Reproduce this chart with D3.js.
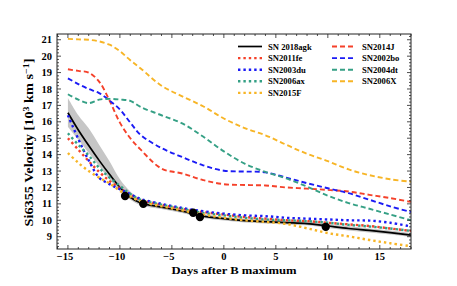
<!DOCTYPE html>
<html>
<head>
<meta charset="utf-8">
<script src="https://cdn.jsdelivr.net/npm/d3@7"></script>
<style>
  body { margin: 0; background: #fff; }
  text { font-family: "Liberation Serif", "DejaVu Serif", serif; font-weight: bold; }
</style>
</head>
<body>
<svg id="chart"></svg>
<script>
// ------ data ------
var dayGrid = [-15, -14, -13, -12, -11, -10, -9, -8, -6, -4, -2, 0, 2, 4, 6, 8, 10, 12, 14, 16, 18];

// SN 2018agk line and its grey band
var agkVel   = [16.55, 15.5, 14.55, 13.65, 12.8, 12.0, 11.4, 11.05, 10.8, 10.55, 10.25, 10.1, 9.98, 9.92, 9.86, 9.8, 9.65, 9.5, 9.38, 9.25, 9.1];
var agkUpper = [17.45, 16.4, 15.6, 14.6, 13.6, 12.5, 11.75, 11.25, 10.95, 10.68, 10.38, 10.22, 10.1, 10.04, 9.98, 9.92, 9.78, 9.63, 9.5, 9.38, 9.23];
var agkLower = [15.7, 14.9, 14.1, 13.3, 12.5, 11.8, 11.25, 10.92, 10.68, 10.44, 10.14, 9.99, 9.87, 9.81, 9.75, 9.69, 9.53, 9.38, 9.26, 9.13, 8.98];

// dotted comparison SNe
var sn2011fe = [15.0, 14.3, 13.6, 12.95, 12.4, 11.95, 11.55, 11.25, 10.95, 10.7, 10.5, 10.35, 10.2, 10.1, 10.0, 9.95, 9.85, 9.75, 9.65, 9.5, 9.35];
var sn2003du = [16.4, 14.95, 13.65, 12.6, 12.2, 11.9, 11.6, 11.3, 11.0, 10.75, 10.55, 10.4, 10.3, 10.25, 10.15, 10.1, 10.05, 10.0, 9.98, 9.85, 9.62];
var sn2006ax = [15.3, 14.6, 13.95, 13.2, 12.6, 12.1, 11.6, 11.25, 10.95, 10.7, 10.45, 10.3, 10.15, 10.05, 10.0, 9.95, 9.85, 9.72, 9.62, 9.5, 9.35];
var sn2015F  = [14.1, 13.5, 13.0, 12.6, 12.25, 11.8, 11.45, 11.15, 10.85, 10.6, 10.35, 10.15, 10.0, 9.9, 9.78, 9.51, 9.22, 9.02, 8.8, 8.6, 8.42];

// dashed comparison SNe
var sn2014J  = [19.2, 19.1, 19.0, 18.45, 17.3, 15.95, 15.0, 14.3, 13.15, 12.85, 12.45, 12.2, 12.15, 12.12, 12.0, 11.93, 11.85, 11.75, 11.55, 11.35, 11.12];
var sn2002bo = [18.65, 18.3, 18.0, 17.75, 17.3, 16.75, 15.95, 15.2, 14.4, 13.85, 13.35, 13.02, 12.97, 12.92, 12.6, 12.26, 11.95, 11.65, 11.25, 10.85, 10.5];
var sn2004dt = [17.68, 17.35, 17.14, 17.35, 17.4, 17.36, 17.28, 16.9, 16.4, 15.9, 15.1, 14.2, 13.45, 12.95, 12.55, 12.05, 11.5, 11.05, 10.7, 10.35, 10.0];
var sn2006X  = [21.05, 21.02, 21.0, 20.9, 20.7, 20.3, 19.75, 19.25, 18.2, 17.55, 16.95, 16.2, 15.62, 15.18, 14.6, 14.05, 13.6, 13.1, 12.75, 12.5, 12.35];

// black points of SN 2018agk
var pointDays = [-9.5, -7.75, -2.95, -2.3, 9.8];
var pointVel  = [11.48, 11.0, 10.46, 10.2, 9.6];

var xTicks = [-15, -10, -5, 0, 5, 10, 15];
var yTicks = [9, 10, 11, 12, 13, 14, 15, 16, 17, 18, 19, 20, 21];

var series = [
  {name: "SN 2018agk", values: agkVel,   color: "#000000", style: "solid"},
  {name: "SN2011fe",   values: sn2011fe, color: "#f5412a", style: "dot"},
  {name: "SN2003du",   values: sn2003du, color: "#1b1bf5", style: "dot"},
  {name: "SN2006ax",   values: sn2006ax, color: "#35a085", style: "dot"},
  {name: "SN2015F",    values: sn2015F,  color: "#f7b526", style: "dot"},
  {name: "SN2014J",    values: sn2014J,  color: "#f5412a", style: "dash"},
  {name: "SN2002bo",   values: sn2002bo, color: "#1b1bf5", style: "dash"},
  {name: "SN2004dt",   values: sn2004dt, color: "#35a085", style: "dash"},
  {name: "SN2006X",    values: sn2006X,  color: "#f7b526", style: "dash"}
];

// ------ layout ------
var width = 457, height = 286;
var margin = {left: 57, right: 46, top: 34, bottom: 37};

var svg = d3.select("#chart")
    .attr("width", width)
    .attr("height", height);

var x = d3.scaleLinear().domain([-16.05, 18]).range([margin.left, width - margin.right]);
var y = d3.scaleLinear().domain([8.25, 21.35]).range([height - margin.bottom, margin.top]);

function styleLine(sel, s) {
  sel.attr("fill", "none").attr("stroke", s.color);
  if (s.style === "dash") sel.attr("stroke-width", 1.9).attr("stroke-dasharray", "5,3");
  else if (s.style === "dot") sel.attr("stroke-width", 2.4).attr("stroke-dasharray", "2.4,3");
  else sel.attr("stroke-width", 1.7);
}

svg.append("clipPath").attr("id", "clip").append("rect")
    .attr("x", x.range()[0]).attr("y", y.range()[1])
    .attr("width", x.range()[1] - x.range()[0]).attr("height", y.range()[0] - y.range()[1]);

var plot = svg.append("g").attr("clip-path", "url(#clip)");

// grey band
var area = d3.area()
    .x((d, i) => x(dayGrid[i]))
    .y0((d, i) => y(agkLower[i]))
    .y1((d, i) => y(agkUpper[i]))
    .curve(d3.curveCatmullRom);
plot.append("path").datum(agkUpper).attr("fill", "#c6c6c6").attr("d", area);

var line = d3.line()
    .x((d, i) => x(dayGrid[i]))
    .y(d => y(d))
    .curve(d3.curveCatmullRom);

series.forEach(function (s) {
  plot.append("path").datum(s.values).attr("d", line).call(styleLine, s);
});

plot.selectAll("circle.pt")
    .data(pointDays)
    .enter().append("circle")
    .attr("class", "pt")
    .attr("cx", d => x(d))
    .attr("cy", (d, i) => y(pointVel[i]))
    .attr("r", 4.2)
    .attr("fill", "#000");

// ------ axes ------
var x0 = x.range()[0], x1 = x.range()[1], y0 = y.range()[0], y1 = y.range()[1];
var axes = svg.append("g").attr("stroke", "#222").attr("stroke-width", 0.8);

d3.range(-16, 18.01, 1).forEach(function (d) {
  var len = (d % 5 === 0) ? 4 : 2;
  axes.append("line").attr("x1", x(d)).attr("x2", x(d)).attr("y1", y0).attr("y2", y0 - len);
  axes.append("line").attr("x1", x(d)).attr("x2", x(d)).attr("y1", y1).attr("y2", y1 + len);
});
d3.range(8.4, 21.35, 0.2).forEach(function (v) {
  var major = Math.abs(v - Math.round(v)) < 1e-6;
  var len = major ? 4 : 2;
  axes.append("line").attr("x1", x0).attr("x2", x0 + len).attr("y1", y(v)).attr("y2", y(v));
  axes.append("line").attr("x1", x1).attr("x2", x1 - len).attr("y1", y(v)).attr("y2", y(v));
});

svg.append("rect")
    .attr("x", x0).attr("y", y1)
    .attr("width", x1 - x0).attr("height", y0 - y1)
    .attr("fill", "none").attr("stroke", "#222").attr("stroke-width", 1);

svg.selectAll("text.xt")
    .data(xTicks)
    .enter().append("text")
    .attr("class", "xt")
    .attr("x", d => x(d) - (d < 0 ? 3 : 0))
    .attr("y", y0 + 11)
    .attr("text-anchor", "middle")
    .attr("font-size", 10.5)
    .text(d => d < 0 ? "\u2212" + Math.abs(d) : d);

svg.selectAll("text.yt")
    .data(yTicks)
    .enter().append("text")
    .attr("class", "yt")
    .attr("x", x0 - 5)
    .attr("y", d => y(d) + 3.6)
    .attr("text-anchor", "end")
    .attr("font-size", 10.5)
    .text(d => d);

svg.append("text")
    .attr("x", 234).attr("y", 274)
    .attr("text-anchor", "middle")
    .attr("font-size", 11)
    .attr("textLength", 125).attr("lengthAdjust", "spacingAndGlyphs")
    .text("Days after B maximum");

svg.append("text")
    .attr("transform", "translate(33,142.5) rotate(-90)")
    .attr("text-anchor", "middle")
    .attr("font-size", 11.5)
    .attr("textLength", 168).attr("lengthAdjust", "spacingAndGlyphs")
    .html('Si6355 Velocity [10<tspan dy="-4" font-size="8">3</tspan><tspan dy="4"> km s</tspan><tspan dy="-4" font-size="8">\u22121</tspan><tspan dy="4">]</tspan>');

// ------ legend ------
var legend = svg.append("g");
series.forEach(function (s, i) {
  var col = i < 5 ? 0 : 1;
  var row = i < 5 ? i : i - 5;
  var lx = col === 0 ? 238 : 332;
  var ly = 46.5 + row * 11.6;
  legend.append("line")
      .attr("x1", lx).attr("x2", lx + 24)
      .attr("y1", ly).attr("y2", ly)
      .call(styleLine, s);
  legend.append("text")
      .attr("x", lx + 30).attr("y", ly + 3)
      .attr("font-size", 8.6)
      .text(s.name);
});
</script>
</body>
</html>
